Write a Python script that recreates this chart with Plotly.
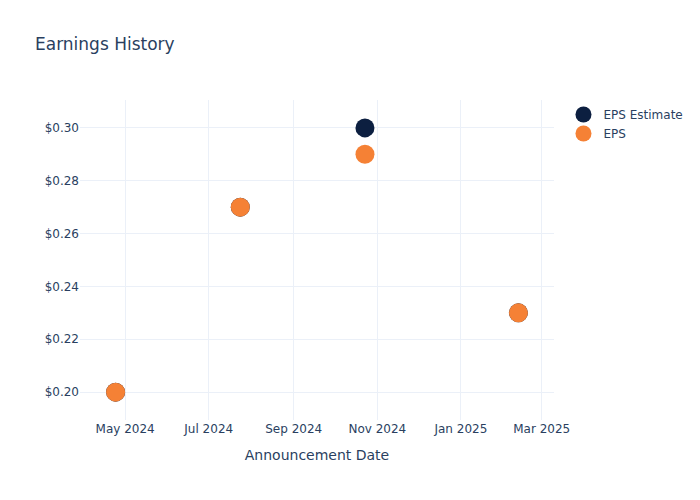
import plotly.graph_objects as go

dates = ["2024-04-24", "2024-07-24", "2024-10-23", "2025-02-12"]
eps_estimate = [0.20, 0.27, 0.30, 0.23]
eps_actual = [0.20, 0.27, 0.29, 0.23]

fig = go.Figure()
fig.add_trace(go.Scatter(x=dates, y=eps_estimate, mode="markers", name="EPS Estimate",
                         marker=dict(color="#0c1f40", size=19)))
fig.add_trace(go.Scatter(x=dates, y=eps_actual, mode="markers", name="EPS",
                         marker=dict(color="#f58135", size=19)))

fig.update_layout(
    template="plotly_white",
    width=700, height=500,
    font=dict(family="DejaVu Sans"),
    title=dict(text="Earnings History"),
    xaxis=dict(title=dict(text="Announcement Date"), dtick="M2", tickformat="%b %Y"),
    yaxis=dict(tickprefix="$", tickformat=".2f"),
)
fig.write_html("out.html", config={"displayModeBar": False},
               post_script="document.body.style.margin='0';")
